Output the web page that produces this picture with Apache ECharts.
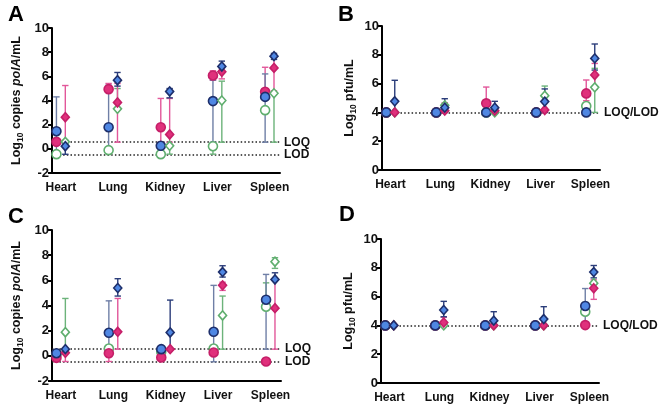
<!DOCTYPE html>
<html><head><meta charset="utf-8">
<script src="https://cdn.jsdelivr.net/npm/echarts@6/dist/echarts.min.js"></script>
<style>html,body{margin:0;padding:0;background:#fff}#c{width:660px;height:409px}</style>
</head><body><div id="c"></div>
<script>
// Categories
const cats = ['Heart', 'Lung', 'Kidney', 'Liver', 'Spleen'];
const ticksA = [-2, 0, 2, 4, 6, 8, 10];
const ticksB = [0, 2, 4, 6, 8, 10];

// Each entry: [mean, lower, upper] per category
// Panel A (Log10 copies polA/mL)
const aCircleGreen = [[-0.44,-0.44,-0.44],[-0.11,-0.11,-0.11],[-0.44,-0.44,-0.44],[0.22,-0.44,0.22],[3.2,3.2,3.2]];
const aCirclePink  = [[0.58,0.58,0.58],[4.94,4.94,5.41],[1.79,0.55,4.17],[6.07,5.68,6.46],[4.72,4.72,6.75]];
const aCircleBlue  = [[1.46,-0.4,4.3],[1.79,-0.1,5.27],[0.25,0.25,0.25],[3.95,0.55,5.68],[4.3,0.55,6.2]];
const aDiamGreen   = [[0.58,0.4,0.7],[3.31,3.31,4.99],[0.25,-0.44,0.25],[4.0,0.55,5.6],[4.6,0.55,4.6]];
const aDiamPink    = [[2.62,0.55,5.24],[3.84,0.55,5.41],[1.19,0.55,4.17],[6.37,5.79,6.5],[6.7,4.8,7.75]];
const aDiamBlue    = [[0.22,-0.45,0.55],[5.68,5.19,6.32],[4.75,4.22,4.99],[6.82,6.37,7.26],[7.67,7.4,7.9]];
// Panel B (Log10 pfu/mL)
const bCircleGreen = [[4,4,4],[4,4,4],[4,4,4],[4,4,4],[4.44,4.44,4.44]];
const bCirclePink  = [[4,4,4],[4,4,4],[4.63,4,5.76],[4,4,4],[5.32,4.81,6.25]];
const bCircleBlue  = [[4,4,4],[4,4,4],[4,4,4],[4,4,4],[4,4,4]];
const bDiamGreen   = [[4,4,4],[4.49,4,4.6],[4,4,4],[5.16,4.8,5.83],[5.74,4,7.06]];
const bDiamPink    = [[4,4,4],[4.12,4,4.67],[4.12,4,4.12],[4.17,4,4.17],[6.6,5.6,7.4]];
const bDiamBlue    = [[4.77,4,6.23],[4.33,4,4.95],[4.33,4,4.77],[4.75,4,5.63],[7.75,6.94,8.75]];
// Panel C (Log10 copies polA/mL)
const cCircleGreen = [[0.1,0.1,0.1],[0.58,0.58,0.58],[0.32,0.32,0.32],[0.58,0.58,0.58],[3.9,3.9,5.8]];
const cCirclePink  = [[-0.16,-0.16,-0.16],[0.21,-0.45,0.21],[-0.13,-0.13,-0.13],[0.27,0.27,0.27],[-0.45,-0.45,-0.45]];
const cCircleBlue  = [[0.21,-0.35,0.45],[1.83,0.55,4.37],[0.53,0.53,0.53],[1.91,-0.47,5.6],[4.46,0.53,6.47]];
const cDiamGreen   = [[1.88,0.53,4.56],null,null,[3.21,0.53,4.75],[7.48,6.95,7.8]];
const cDiamPink    = [[0.24,-0.45,0.24],[1.91,0.53,4.56],[0.53,0.53,0.53],[5.6,5.2,5.85],[3.79,0.53,6.0]];
const cDiamBlue    = [[0.53,0.53,0.53],[5.39,4.75,6.13],[1.86,0.53,4.43],[6.66,6.26,7.16],[6.07,6.07,6.6]];
// Panel D (Log10 pfu/mL)
const dCircleGreen = [[4,4,4],[4,4,4],[4,4,4],[4,4,4],[4.95,4.95,5.6]];
const dCirclePink  = [[4,4,4],[4,4,4],[4,4,4],[4,4,4],[4.02,4.02,4.02]];
const dCircleBlue  = [[4,4,4],[4,4,4],[4,4,4],[4,4,4],[5.35,4,6.56]];
const dDiamGreen   = [[4,4,4],[4,4,4],[4,4,4],[4,4,4],[6.93,6.93,6.93]];
const dDiamPink    = [[4,4,4],[4.2,4,4.56],[4,4,4],[4,4,4],[6.58,5.81,7.16]];
const dDiamBlue    = [[4,4,4],[5.07,4.6,5.67],[4.33,4,4.95],[4.44,4,5.3],[7.7,7.3,8.16]];

// Reference lines
const refA = [{v: 0.55, t: 'LOQ'}, {v: -0.45, t: 'LOD'}];
const refB = [{v: 4, t: 'LOQ/LOD'}];

const FONT = '"Liberation Sans", Arial, Helvetica, sans-serif';
const BLUE = '#4f87e3', NAVY = '#1e2f6b', PINK = '#e0307c', PINKD = '#c51f68', GREEN = '#5fae6e';

const styles = {
  circleGreen: {sym: 'circle', side: -1, fill: '#ffffff', border: GREEN, bar: '#6cb37a', size: 9},
  circlePink:  {sym: 'circle', side: -1, fill: PINK, border: PINKD, bar: '#e2579a', size: 9},
  circleBlue:  {sym: 'circle', side: -1, fill: BLUE, border: NAVY, bar: '#6f7fa6', size: 9},
  diamGreen:   {sym: 'diamond', side: 1, fill: '#ffffff', border: GREEN, bar: '#6cb37a', size: [8, 9]},
  diamPink:    {sym: 'diamond', side: 1, fill: PINK, border: PINKD, bar: '#e2579a', size: [8, 9]},
  diamBlue:    {sym: 'diamond', side: 1, fill: BLUE, border: NAVY, bar: '#2b3d7a', size: [8, 9]}
};

const panels = [
  {letter: 'A', lx: 8, ly: 4, grid: {left: 52, top: 28, width: 228, height: 145}, xr: [-0.17, 4.2], yr: [-2, 10], refs: refA, gap: 27,
   name: '{a|Log}{s|10}{a| copies }{i|polA}{a|/mL}',
   data: {circleGreen: aCircleGreen, circlePink: aCirclePink, circleBlue: aCircleBlue, diamGreen: aDiamGreen, diamPink: aDiamPink, diamBlue: aDiamBlue}},
  {letter: 'B', lx: 338, ly: 4, grid: {left: 382, top: 26, width: 218, height: 144}, xr: [-0.17, 4.19], yr: [0, 10], refs: refB, gap: 24,
   name: '{a|Log}{s|10}{a| pfu/mL}',
   data: {circleGreen: bCircleGreen, circlePink: bCirclePink, circleBlue: bCircleBlue, diamGreen: bDiamGreen, diamPink: bDiamPink, diamBlue: bDiamBlue}},
  {letter: 'C', lx: 8, ly: 206, grid: {left: 52, top: 230, width: 229, height: 151}, xr: [-0.17, 4.2], yr: [-2, 10], refs: refA, gap: 27,
   name: '{a|Log}{s|10}{a| copies }{i|polA}{a|/mL}',
   data: {circleGreen: cCircleGreen, circlePink: cCirclePink, circleBlue: cCircleBlue, diamGreen: cDiamGreen, diamPink: cDiamPink, diamBlue: cDiamBlue}},
  {letter: 'D', lx: 339, ly: 204, grid: {left: 381, top: 239, width: 218, height: 144}, xr: [-0.17, 4.19], yr: [0, 10], refs: refB, gap: 24,
   name: '{a|Log}{s|10}{a| pfu/mL}',
   data: {circleGreen: dCircleGreen, circlePink: dCirclePink, circleBlue: dCircleBlue, diamGreen: dDiamGreen, diamPink: dDiamPink, diamBlue: dDiamBlue}}
];

const OFFSET = 0.085;
const order = ['circleGreen', 'circlePink', 'circleBlue', 'diamGreen', 'diamPink', 'diamBlue'];

function errRenderer(color) {
  return function (params, api) {
    const x = api.value(0), m = api.value(1), lo = api.value(2), hi = api.value(3);
    const pm = api.coord([x, m]);
    const st = {stroke: color, lineWidth: 1.4};
    const ch = [];
    const cap = 3.2;
    if (hi > m + 0.02) {
      const p = api.coord([x, hi]);
      ch.push({type: 'line', shape: {x1: pm[0], y1: pm[1], x2: p[0], y2: p[1]}, style: st});
      ch.push({type: 'line', shape: {x1: p[0] - cap, y1: p[1], x2: p[0] + cap, y2: p[1]}, style: st});
    }
    if (lo < m - 0.02) {
      const p = api.coord([x, lo]);
      ch.push({type: 'line', shape: {x1: pm[0], y1: pm[1], x2: p[0], y2: p[1]}, style: st});
      ch.push({type: 'line', shape: {x1: p[0] - cap, y1: p[1], x2: p[0] + cap, y2: p[1]}, style: st});
    }
    return {type: 'group', children: ch};
  };
}

const grids = [], xAxes = [], yAxes = [], series = [], graphics = [];
const txt = {fontFamily: FONT, fontWeight: 'bold', color: '#111'};

panels.forEach((p, gi) => {
  grids.push(Object.assign({containLabel: false}, p.grid));
  xAxes.push({
    gridIndex: gi, type: 'value', min: p.xr[0], max: p.xr[1],
    axisLine: {show: true, onZero: false, lineStyle: {color: '#000', width: 2}},
    axisTick: {show: false}, splitLine: {show: false},
    axisLabel: Object.assign({customValues: [0, 1, 2, 3, 4], formatter: v => cats[Math.round(v)], fontSize: 12, margin: 9}, txt)
  });
  yAxes.push({
    gridIndex: gi, type: 'value', min: p.yr[0], max: p.yr[1], interval: 2,
    axisLine: {show: true, onZero: false, lineStyle: {color: '#000', width: 2}},
    axisTick: {show: true, length: 4, lineStyle: {color: '#000', width: 2}},
    splitLine: {show: false},
    axisLabel: Object.assign({fontSize: 13, margin: 3}, txt),
    name: p.name, nameLocation: 'middle', nameRotate: 90, nameGap: p.gap,
    nameTextStyle: {rich: {
      a: {fontFamily: FONT, fontWeight: 'bold', fontSize: 12.5, color: '#111', lineHeight: 16},
      i: {fontFamily: FONT, fontWeight: 'bold', fontStyle: 'italic', fontSize: 12.5, color: '#111', lineHeight: 16},
      s: {fontFamily: FONT, fontWeight: 'bold', fontSize: 8.5, color: '#111', lineHeight: 16, verticalAlign: 'bottom', padding: [6, 0, 0, 0]}
    }}
  });
  order.forEach((k) => {
    const s = styles[k];
    const rows = p.data[k];
    const errData = [];
    rows.forEach((r, ci) => {
      if (!r) return;
      errData.push([ci + s.side * OFFSET, r[0], r[1], r[2]]);
    });
    series.push({
      type: 'custom', xAxisIndex: gi, yAxisIndex: gi, z: 2, silent: true,
      renderItem: errRenderer(s.bar), encode: {x: 0, y: [1, 2, 3]}, data: errData
    });
  });
  order.forEach((k, si) => {
    const s = styles[k];
    const rows = p.data[k];
    const ptData = [];
    rows.forEach((r, ci) => { if (r) ptData.push([ci + s.side * OFFSET, r[0]]); });
    const ser = {
      type: 'scatter', xAxisIndex: gi, yAxisIndex: gi, z: 3, symbol: s.sym, symbolSize: s.size,
      itemStyle: {color: s.fill, borderColor: s.border, borderWidth: 1.6, opacity: 1},
      data: ptData
    };
    if (si === 0) {
      ser.markLine = {
        silent: true, symbol: ['none', 'none'], animation: false, z: 1,
        lineStyle: {color: '#222', width: 1.5, type: [1.5, 2.2]},
        label: Object.assign({position: 'end', distance: 4, fontSize: 12}, txt),
        data: p.refs.map(r => ({yAxis: r.v, label: {formatter: r.t}}))
      };
    }
    series.push(ser);
  });
  graphics.push({type: 'text', left: p.lx, top: p.ly, style: {text: p.letter, font: 'bold 22px ' + FONT, fill: '#000'}});
});

const chart = echarts.init(document.getElementById('c'), null, {renderer: 'canvas'});
chart.setOption({
  animation: false, backgroundColor: '#fff',
  grid: grids, xAxis: xAxes, yAxis: yAxes, series: series, graphic: graphics
});
</script></body></html>
